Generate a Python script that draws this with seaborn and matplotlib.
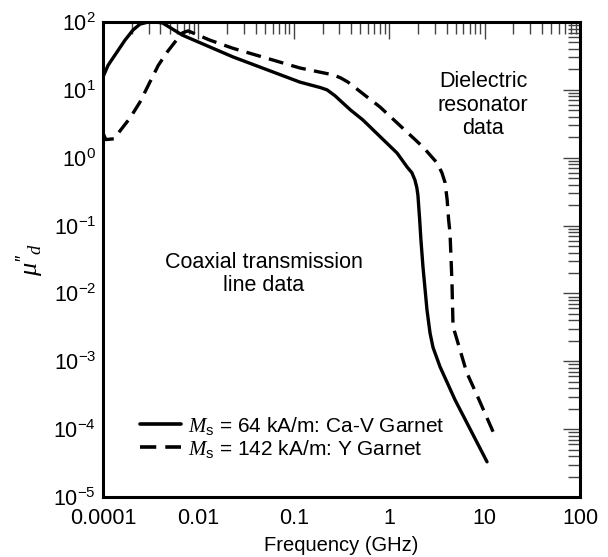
import numpy as np
import pandas as pd
import seaborn as sns
import matplotlib
matplotlib.use("Agg")
import matplotlib.pyplot as plt
from matplotlib.ticker import FixedLocator, FixedFormatter, LogLocator, NullFormatter

# ---- data (x on the plotted log axis, y = mu''_d) ----
solid_x = [0.001, 0.00113, 0.0014, 0.0017, 0.00206, 0.00244, 0.0029, 0.0035, 0.0042, 0.0068,
           0.023, 0.116, 0.19, 0.223, 0.27, 0.39, 0.53, 1.21, 1.54, 1.73, 1.86, 1.95, 2.0,
           2.08, 2.15, 2.26, 2.49, 2.68, 2.88, 3.41, 4.9, 10.6]
solid_y = [15.5, 23, 36, 54, 76, 93, 99, 100, 97, 64,
           30.6, 13, 10.8, 10, 8.2, 5.1, 3.6, 1.17, 0.73, 0.6, 0.47, 0.36, 0.28,
           0.13, 0.062, 0.0245, 0.0057, 0.0026, 0.0016, 8.3e-4, 2.7e-4, 3.3e-5]

dashed_x = [0.001, 0.00107, 0.0013, 0.00192, 0.00244, 0.0031, 0.0038, 0.0047, 0.0057, 0.0068,
            0.0078, 0.0132, 0.023, 0.116, 0.26, 0.31, 0.37, 0.80, 2.26, 3.17, 3.57, 3.85,
            4.05, 4.2, 4.34, 4.55, 4.67, 4.9, 6.5, 8.3, 12.9]
dashed_y = [2.3, 1.85, 1.9, 3.85, 6.6, 13, 23, 36, 51, 69,
            74, 54, 41, 21, 16.6, 15.0, 13, 5.6, 1.44, 0.84, 0.6, 0.43,
            0.24, 0.12, 0.078, 0.0145, 0.0032, 0.0026, 6.8e-4, 3.2e-4, 7.8e-5]

series_names = [r"$M_\mathrm{s}$ = 64 kA/m: Ca-V Garnet",
                r"$M_\mathrm{s}$ = 142 kA/m: Y Garnet"]

x_tick_vals = [1e-3, 1e-2, 1e-1, 1, 10, 100]
x_tick_labels = ["0.0001", "0.01", "0.1", "1", "10", "100"]

x_label = "Frequency (GHz)"
y_label = r"$\mu''_d$"
text_dielectric = "Dielectric\nresonator\ndata"
text_coax = "Coaxial transmission\nline data"

df = pd.concat([
    pd.DataFrame({"freq": solid_x, "mu": solid_y, "series": series_names[0]}),
    pd.DataFrame({"freq": dashed_x, "mu": dashed_y, "series": series_names[1]}),
], ignore_index=True)

sns.set_style("white")
plt.rcParams["font.family"] = ["Liberation Sans", "DejaVu Sans"]
plt.rcParams["mathtext.fontset"] = "custom"
plt.rcParams["mathtext.rm"] = "Liberation Sans"
plt.rcParams["mathtext.it"] = "Liberation Serif:italic"
plt.rcParams["mathtext.bf"] = "Liberation Sans:bold"
plt.rcParams["text.color"] = "black"
plt.rcParams["axes.labelcolor"] = "black"
plt.rcParams["xtick.labelcolor"] = "black"
plt.rcParams["ytick.labelcolor"] = "black"

fig = plt.figure(figsize=(6.08, 5.57), dpi=100)
ax = fig.add_axes([103/608, 1-497/557, 477/608, 475/557])

sns.lineplot(data=df, x="freq", y="mu", style="series", hue="series",
             palette=["black", "black"],
             dashes={series_names[0]: "", series_names[1]: (4.5, 2.5)},
             linewidth=2.4, estimator=None, sort=False, ax=ax)
for ln in ax.get_lines():
    ln.set_solid_joinstyle("round")
    ln.set_dash_joinstyle("round")

ax.set_xscale("log")
ax.set_yscale("log")
ax.set_xlim(1e-3, 100)
ax.set_ylim(1e-5, 100)

ax.xaxis.set_major_locator(FixedLocator(x_tick_vals))
ax.xaxis.set_major_formatter(FixedFormatter(x_tick_labels))
ax.xaxis.set_minor_locator(LogLocator(base=10, subs=np.arange(2, 10)))
ax.xaxis.set_minor_formatter(NullFormatter())
ax.yaxis.set_major_locator(LogLocator(base=10, numticks=20))
ax.yaxis.set_minor_locator(LogLocator(base=10, subs=np.arange(2, 10), numticks=20))
ax.yaxis.set_minor_formatter(NullFormatter())

ax.tick_params(which="both", direction="in", top=True, right=True, color="#444444")
ax.tick_params(which="major", length=12, width=1.0, labelsize=15.5)
ax.tick_params(axis="x", which="major", pad=8)
ax.tick_params(axis="y", which="major", pad=5)
ax.tick_params(which="minor", length=8.5, width=1.0)

for s in ax.spines.values():
    s.set_linewidth(2.2)
    s.set_color("black")

ax.set_xlabel(x_label, fontsize=14.5, labelpad=5)
ax.set_ylabel(y_label, fontsize=19, labelpad=6)

ax.text(0.797, 0.825, text_dielectric, transform=ax.transAxes, ha="center", va="center",
        fontsize=15.5, linespacing=1.15)
ax.text(0.3375, 0.47, text_coax, transform=ax.transAxes, ha="center", va="center",
        fontsize=15.5, linespacing=1.15)

leg = ax.legend(loc="lower left", bbox_to_anchor=(0.048, 0.048), frameon=False,
                fontsize=15, handlelength=1.95, handletextpad=0.35, labelspacing=0.05,
                borderpad=0.2)
for h in leg.get_lines():
    h.set_linewidth(2.6)

fig.savefig("out.png", dpi=100)
